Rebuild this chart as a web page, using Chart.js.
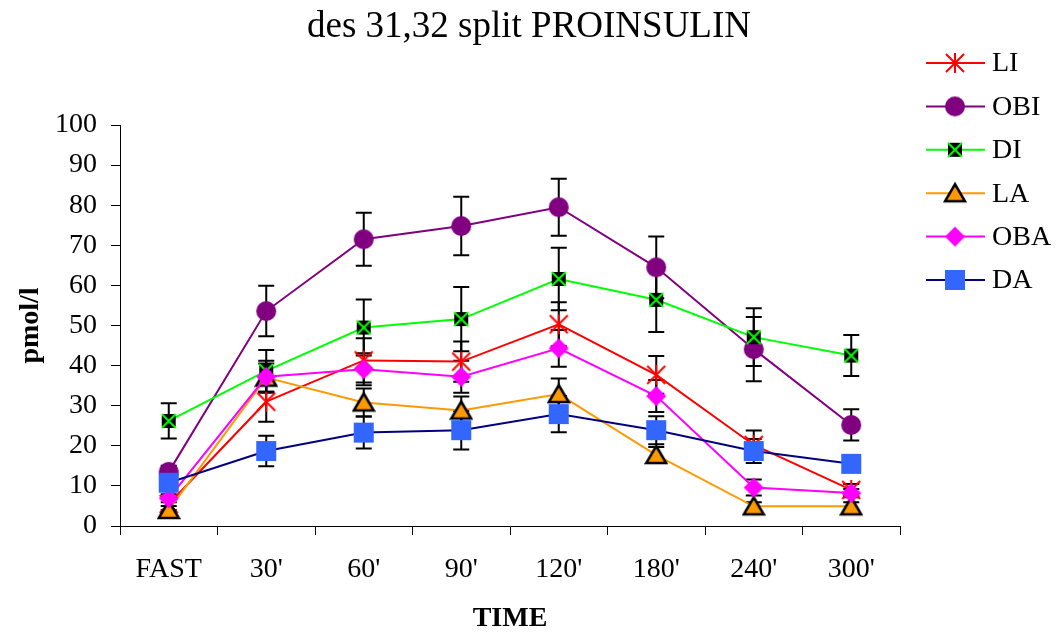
<!DOCTYPE html>
<html>
<head>
<meta charset="utf-8">
<script src="https://cdn.jsdelivr.net/npm/chart.js@4.4.1/dist/chart.umd.min.js"></script>
<style>
    html, body { margin: 0; padding: 0; background: #fff; }
    #wrap { width: 1058px; height: 634px; }
</style>
</head>
<body>
<div id="wrap"><canvas id="chart" width="1058" height="634"></canvas></div>
<script>
// Sampling times
const times = ["FAST", "30'", "60'", "90'", "120'", "180'", "240'", "300'"];

// Means (pmol/l) and error bar half-lengths per group
const liMean  = [5.5, 31.0, 41.3, 41.0, 50.3, 37.7, 20.2, 9.0];
const liErr   = [1.5, 5.0, 5.5, 5.0, 5.5, 4.7, 3.6, 1.5];
const obiMean = [13.5, 53.6, 71.5, 74.8, 79.5, 64.5, 44.1, 25.2];
const obiErr  = [1.5, 6.3, 6.6, 7.3, 7.1, 7.7, 8.0, 3.9];
const diMean  = [26.2, 38.7, 49.5, 51.6, 61.6, 56.4, 47.1, 42.5];
const diErr   = [4.4, 5.2, 7.0, 8.0, 7.8, 8.0, 7.2, 5.1];
const laMean  = [4.0, 37.0, 30.8, 28.8, 32.9, 17.7, 4.9, 4.9];
const laErr   = [1.0, 3.5, 3.5, 3.5, 3.9, 2.0, 1.0, 1.0];
const obaMean = [6.9, 37.2, 39.1, 37.2, 44.3, 32.4, 9.6, 8.2];
const obaErr  = [1.0, 4.0, 4.0, 4.0, 4.6, 4.0, 2.0, 1.0];
const daMean  = [10.8, 18.7, 23.3, 23.9, 27.9, 23.9, 18.7, 15.5];
const daErr   = [1.5, 3.8, 4.0, 4.8, 4.5, 3.5, 3.0, 1.5];

const serif = "'Liberation Serif', 'Times New Roman', serif";

// Build marker images so the Excel-like symbols can be used as pointStyle
function makeMarker(kind) {
    const c = document.createElement('canvas');
    c.width = 24; c.height = 24;
    const g = c.getContext('2d');
    g.lineJoin = 'miter';
    if (kind === 'star') {
        g.strokeStyle = '#ff0000'; g.lineWidth = 2;
        g.beginPath();
        g.moveTo(3, 3); g.lineTo(21, 21);
        g.moveTo(21, 3); g.lineTo(3, 21);
        g.moveTo(12, 2); g.lineTo(12, 22);
        g.stroke();
    } else if (kind === 'circle') {
        g.fillStyle = '#800080';
        g.beginPath(); g.arc(12, 12, 10, 0, Math.PI * 2); g.fill();
    } else if (kind === 'xbox') {
        g.fillStyle = '#000';
        g.fillRect(5, 5, 14, 14);
        g.strokeStyle = '#00ff00'; g.lineWidth = 2;
        g.beginPath();
        g.moveTo(5, 5); g.lineTo(19, 19);
        g.moveTo(19, 5); g.lineTo(5, 19);
        g.stroke();
    } else if (kind === 'triangle') {
        g.fillStyle = '#ff9900'; g.strokeStyle = '#000'; g.lineWidth = 2.5;
        g.beginPath();
        g.moveTo(12, 3); g.lineTo(22, 20); g.lineTo(2, 20); g.closePath();
        g.fill(); g.stroke();
    } else if (kind === 'diamond') {
        g.fillStyle = '#ff00ff';
        g.beginPath();
        g.moveTo(12, 2); g.lineTo(22, 12); g.lineTo(12, 22); g.lineTo(2, 12); g.closePath();
        g.fill();
    } else if (kind === 'square') {
        g.fillStyle = '#3366ff';
        g.fillRect(2, 2, 20, 20);
    }
    return c;
}

function series(label, data, errors, color, marker, idx) {
    return {
        label: label,
        data: data,
        errors: errors,
        borderColor: color,
        backgroundColor: color,
        borderWidth: 2,
        tension: 0,
        pointStyle: makeMarker(marker),
        pointRadius: 10,
        pointHoverRadius: 10,
        order: 5 - idx,
        clip: false
    };
}

// Vertical error bars with caps, drawn under the lines and markers
const errorBars = {
    id: 'errorBars',
    beforeDatasetsDraw(chart) {
        const ctx = chart.ctx;
        const y = chart.scales.y;
        ctx.save();
        ctx.strokeStyle = '#000';
        ctx.lineWidth = 2;
        chart.data.datasets.forEach(function(ds, i) {
            const meta = chart.getDatasetMeta(i);
            meta.data.forEach(function(pt, j) {
                const hi = y.getPixelForValue(ds.data[j] + ds.errors[j]);
                const lo = y.getPixelForValue(ds.data[j] - ds.errors[j]);
                ctx.beginPath();
                ctx.moveTo(pt.x, hi); ctx.lineTo(pt.x, lo);
                ctx.moveTo(pt.x - 8, hi); ctx.lineTo(pt.x + 8, hi);
                ctx.moveTo(pt.x - 8, lo); ctx.lineTo(pt.x + 8, lo);
                ctx.stroke();
            });
        });
        ctx.restore();
    }
};

// Legend on the right: line segment with marker, then the group name
const sideLegend = {
    id: 'sideLegend',
    afterDraw(chart) {
        const ctx = chart.ctx;
        const x0 = chart.chartArea.right + 26;
        ctx.save();
        ctx.font = '28px ' + serif;
        ctx.textBaseline = 'middle';
        ctx.fillStyle = '#000';
        chart.data.datasets.forEach(function(ds, i) {
            const yy = 63 + i * 43.4;
            ctx.strokeStyle = ds.borderColor;
            ctx.lineWidth = 2;
            ctx.beginPath();
            ctx.moveTo(x0, yy); ctx.lineTo(x0 + 59, yy);
            ctx.stroke();
            const img = ds.pointStyle;
            ctx.drawImage(img, x0 + 29 - img.width / 2, yy - img.height / 2);
            ctx.fillText(ds.label, x0 + 66, yy + 1);
        });
        ctx.restore();
    }
};

const ctx = document.getElementById('chart').getContext('2d');
const chart = new Chart(ctx, {
    type: 'line',
    data: {
        labels: times,
        datasets: [
            series('LI', liMean, liErr, '#ff0000', 'star', 0),
            series('OBI', obiMean, obiErr, '#800080', 'circle', 1),
            series('DI', diMean, diErr, '#00ff00', 'xbox', 2),
            series('LA', laMean, laErr, '#ff9900', 'triangle', 3),
            series('OBA', obaMean, obaErr, '#ff00ff', 'diamond', 4),
            series('DA', daMean, daErr, '#000080', 'square', 5)
        ]
    },
    options: {
        responsive: false,
        animation: false,
        layout: { padding: 0 },
        plugins: {
            legend: { display: false },
            tooltip: { enabled: false },
            title: {
                display: true,
                text: 'des 31,32 split PROINSULIN',
                color: '#000',
                font: { family: serif, size: 37, weight: 'normal', lineHeight: 1.2 },
                padding: { top: 5, bottom: 75.6 }
            }
        },
        scales: {
            x: {
                offset: true,
                grid: {
                    offset: true,
                    drawOnChartArea: false,
                    drawTicks: true,
                    tickLength: 9,
                    color: '#000',
                    lineWidth: 1
                },
                border: { color: '#000', width: 1 },
                ticks: {
                    color: '#000',
                    padding: 18,
                    maxRotation: 0,
                    font: { family: serif, size: 28 }
                },
                title: {
                    display: true,
                    text: 'TIME',
                    color: '#000',
                    font: { family: serif, size: 28, weight: 'bold', lineHeight: 1 },
                    padding: { top: 0, bottom: 1 }
                },
                afterFit: function(scale) { scale.height = 108; }
            },
            y: {
                min: 0,
                max: 100,
                grid: {
                    drawOnChartArea: false,
                    drawTicks: true,
                    tickLength: 9,
                    color: '#000'
                },
                border: { color: '#000', width: 1 },
                ticks: {
                    stepSize: 10,
                    color: '#000',
                    padding: 14,
                    font: { family: serif, size: 28 }
                },
                title: {
                    display: true,
                    text: 'pmol/l',
                    color: '#000',
                    font: { family: serif, size: 28, weight: 'bold', lineHeight: 1.2 },
                    padding: { top: 14, bottom: 0 }
                },
                afterFit: function(scale) { scale.width = 120; }
            },
            // empty right-hand strip that holds the legend
            side: {
                type: 'linear',
                position: 'right',
                display: true,
                grid: { display: false },
                border: { display: false },
                ticks: { display: false },
                afterFit: function(scale) { scale.width = 158; }
            }
        }
    },
    plugins: [errorBars, sideLegend]
});
</script>
</body>
</html>
